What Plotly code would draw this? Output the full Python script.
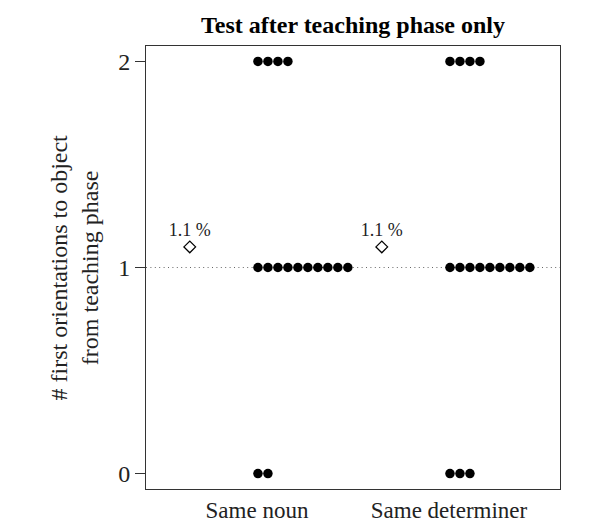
import plotly.graph_objects as go

categories = ["Same noun", "Same determiner"]
values = [0, 1, 2]
counts_noun = [2, 10, 4]
counts_det = [3, 9, 4]
means = [1.1, 1.1]
mean_labels = ["1.1 %", "1.1 %"]
title = "Test after teaching phase only"
ytitle = "# first orientations to object<br>from teaching phase"

FONT = "Liberation Serif"
step = 0.052
mean_offset = -0.35

fig = go.Figure()

for ci, counts in enumerate([counts_noun, counts_det]):
    xs, ys = [], []
    for v, n in zip(values, counts):
        for k in range(n):
            xs.append(ci + 1 + 0.005 + k * step)
            ys.append(v)
    fig.add_trace(go.Scatter(x=xs, y=ys, mode="markers",
                             marker=dict(symbol="circle", size=9.5, color="black"),
                             showlegend=False, hoverinfo="skip", cliponaxis=False))

fig.add_trace(go.Scatter(
    x=[i + 1 + mean_offset for i in range(len(categories))], y=means,
    mode="markers+text", text=mean_labels, textposition="top center",
    textfont=dict(family=FONT, size=18, color="#222"),
    marker=dict(symbol="diamond-open", size=9, color="black", line=dict(width=1.3)),
    showlegend=False, hoverinfo="skip"))

fig.add_shape(type="line", xref="paper", yref="y", x0=0, x1=1, y0=1, y1=1,
              line=dict(color="#666", width=1, dash="1px,3.4px"), layer="below")

fig.update_layout(
    width=614, height=522,
    margin=dict(l=146, r=54, t=46, b=33, autoexpand=False),
    paper_bgcolor="white", plot_bgcolor="white",
    font=dict(family=FONT, size=24, color="#222"),
    title=dict(text="<b>" + title + "</b>", x=353 / 614, xanchor="center",
               y=1 - 25 / 522, yanchor="middle", font=dict(family=FONT, size=24, color="black")),
    xaxis=dict(range=[0.422, 2.578], tickmode="array", tickvals=[1, 2], ticktext=categories,
               showgrid=False, zeroline=False, showline=True, linecolor="#333", linewidth=1,
               mirror=True, ticks="", ticklen=0,
               tickfont=dict(family=FONT, size=23, color="#222"), automargin=False),
    yaxis=dict(range=[-0.075, 2.075], tickmode="array", tickvals=[0, 1, 2],
               showgrid=False, zeroline=False, showline=True, linecolor="#333", linewidth=1,
               mirror=True, ticks="outside", ticklen=10, tickcolor="#333",
               tickfont=dict(family=FONT, size=24, color="#222"), automargin=False),
    annotations=[dict(text=ytitle, xref="paper", yref="paper", x=0, y=0.5,
                      xanchor="center", yanchor="middle", xshift=-72, textangle=-90,
                      showarrow=False, font=dict(family=FONT, size=24, color="#222"))],
)

fig.write_html("out.html", config={"displayModeBar": False},
               post_script="document.body.style.margin='0';document.body.style.padding='0';document.body.style.overflow='hidden';")
